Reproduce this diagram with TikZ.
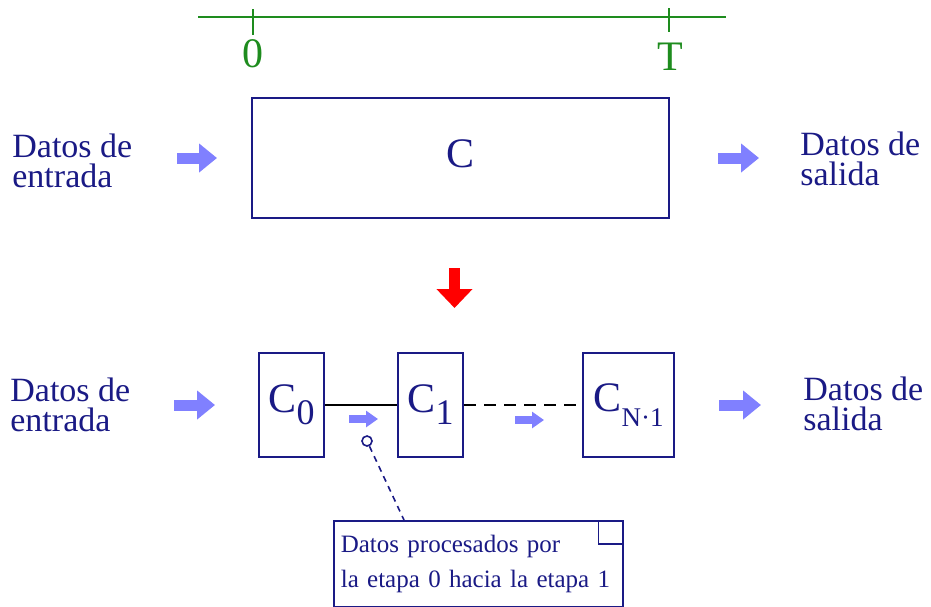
\documentclass[tikz,border=0pt]{standalone}
\usepackage{fontspec}
\setmainfont{Liberation Serif}
\usepackage{tikz}
\usetikzlibrary{arrows.meta,positioning,calc}
\definecolor{EtapaNavy}{HTML}{1A1A85}
\definecolor{EtapaGreen}{HTML}{1E8C1E}
\definecolor{EtapaLila}{HTML}{8080FF}
\definecolor{EtapaRed}{HTML}{FF0000}
\newcommand{\etapaC}[3]{C\raisebox{#3}{\fontsize{#2}{#2}\selectfont #1}}

\begin{document}
\begin{tikzpicture}[x=0.5pt,y=-0.5pt,
    caja/.style={draw,line width=1pt,inner sep=0pt},
    texto/.style={EtapaNavy,font=\fontsize{17}{15}\selectfont,align=left,inner sep=0pt},
    letra/.style={EtapaNavy,font=\fontsize{21}{21}\selectfont},
    flecha/.style={EtapaLila,line width=5.5pt,-{Triangle[length=9pt,width=14pt]}},
    flechita/.style={EtapaLila,line width=4pt,-{Triangle[length=6pt,width=8pt]}}]
  \useasboundingbox (0,0) rectangle (931,606);
  % linea de tiempo
  \coordinate (eje0) at (198,17);
  \coordinate (eje1) at (726,17);
  \draw[EtapaGreen,line width=1pt] (eje0) -- (eje1);
  \draw[EtapaGreen,line width=1pt] (253,9) -- (253,35);
  \draw[EtapaGreen,line width=1pt] (669,8) -- (669,32);
  \node[EtapaGreen,font=\fontsize{21}{21}\selectfont] (t0) at (253,54) {0};
  \node[EtapaGreen,font=\fontsize{21}{21}\selectfont] (tT) at (670,57) {T};

  % circuito completo
  \node[caja,letra,minimum width=208.5pt,minimum height=60pt,text depth=4.5pt] (C) at (460.5,158) {C};
  \node[texto,anchor=west] (entA) at (12,161) {Datos de\\entrada};
  \node[texto,anchor=west] (salA) at (800,159) {Datos de\\salida};
  \draw[flecha] ($(C.west)+(-74,0)$) -- ($(C.west)+(-34,0)$);
  \draw[flecha] ($(C.east)+(48,0)$) -- ($(C.east)+(89,0)$);

  \draw[EtapaRed,line width=5.5pt,-{Triangle[length=9.5pt,width=17.5pt]}] ($(C.south)+(-6,49)$) -- ($(C.south)+(-6,89)$);

  % etapas
  \node[caja,letra,minimum width=32.5pt,minimum height=52pt] (c0) at (291.5,405) {\etapaC{0}{18}{-6pt}};
  \node[caja,letra,minimum width=32.5pt,minimum height=52pt] (c1) at (430.5,405) {\etapaC{1}{18}{-6pt}};
  \node[caja,letra,minimum width=45.5pt,minimum height=52pt] (cn) at (628.5,405) {\etapaC{N·1}{13.5}{-7.5pt}};
  \draw[line width=1pt] (c0.east) -- (c1.west);
  \draw[line width=1pt,dash pattern=on 6pt off 4pt] (c1.east) -- (cn.west);
  \draw[flechita] ($(c0.east)+(24,14)$) -- ($(c0.east)+(53,14)$);
  \draw[flechita] ($(c1.east)+(51,15)$) -- ($(c1.east)+(80,15)$);
  \node[texto,anchor=west] (entB) at (10,405) {Datos de\\entrada};
  \node[texto,anchor=west] (salB) at (803,404) {Datos de\\salida};
  \draw[flecha] ($(c0.west)+(-84,0)$) -- ($(c0.west)+(-43,0)$);
  \draw[flecha] ($(cn.east)+(44,0)$) -- ($(cn.east)+(86,0)$);

  % nota
  \node[caja,EtapaNavy,line width=0.8pt,anchor=north west,inner xsep=3.5pt,text width=137.5pt,minimum height=43pt,
        align=left,font=\fontsize{12.5}{17.5}\selectfont] (nota) at (333,520)
        {Datos procesados por\\la etapa 0 hacia la etapa 1};
  \draw[EtapaNavy,line width=0.8pt] ([xshift=-12.5pt]nota.north east) |- ([yshift=-12pt]nota.north east);
  \node[circle,draw=EtapaNavy,line width=0.8pt,minimum size=5pt,inner sep=0pt] (pin) at (367,441) {};
  \draw[EtapaNavy,line width=0.8pt,dash pattern=on 3pt off 2.5pt] (pin) -- ($(nota.north west)+(71,0)$);
\end{tikzpicture}
\end{document}
